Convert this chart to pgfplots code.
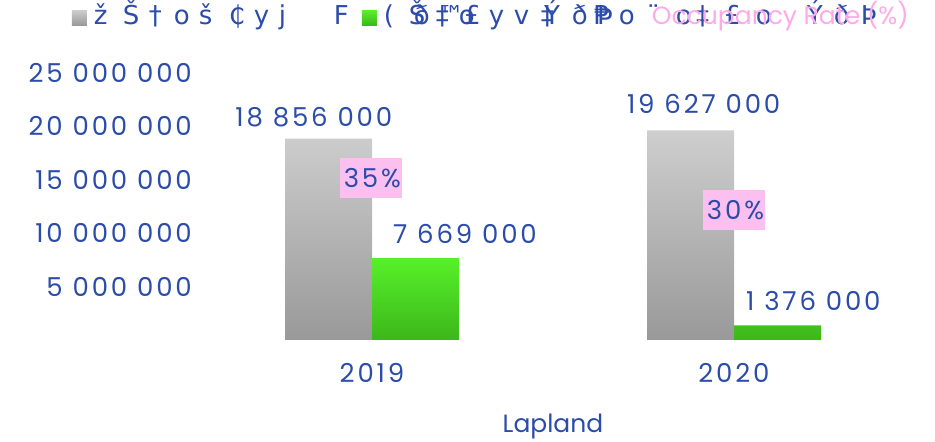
\documentclass[border=0pt]{standalone}
\usepackage{pgfplots}
\pgfplotsset{compat=1.18}
\usepackage{fontspec}
\setmainfont{Poppins}[LetterSpace=11]
\newfontfamily\pinkfont{Poppins}[LetterSpace=0]
\newfontfamily\glyphfont{DejaVu Sans}
\definecolor{txtblue}{RGB}{44,76,170}
\definecolor{boxpink}{RGB}{252,192,240}
\definecolor{legpink}{RGB}{255,170,230}
\definecolor{graytop}{RGB}{206,206,206}
\definecolor{graybot}{RGB}{153,153,153}
\definecolor{greentop}{RGB}{88,240,42}
\definecolor{greenbot}{RGB}{60,183,26}
\newcommand\gl[2]{\rlap{\hspace*{#1bp}#2}}
\begin{document}
\begin{tikzpicture}[font=\fontsize{26bp}{30bp}\selectfont]
\path[use as bounding box] (0,0) rectangle (935bp,442bp);
\begin{axis}[
  at={(191bp,102bp)}, anchor=south west,
  scale only axis, width=724bp, height=267bp,
  xmin=-0.5, xmax=1.5, ymin=0, ymax=25000000,
  clip=false,
  axis line style={draw=none}, tick style={draw=none}, major tick length=0,
  xtick={0,1}, xticklabels={2019,2020},
  ytick={5000000,10000000,15000000,20000000,25000000},
  yticklabels={5 000 000,10 000 000,15 000 000,20 000 000,25 000 000},
  scaled y ticks=false,
  yticklabel style={anchor=east, inner sep=0, xshift=1bp, text=txtblue},
  xticklabel style={anchor=north, inner sep=0, yshift=-23bp, text=txtblue},
  xlabel={\pinkfont\fontsize{25bp}{30bp}\selectfont Lapland},
  xlabel style={at={(axis description cs:0.5,-0.3446)}, anchor=base, inner sep=0, text=txtblue},
  legend columns=3,
  legend style={at={(axis description cs:-0.1644,1.2734)}, anchor=north west,
    draw=none, fill=none, inner sep=0, outer sep=0,
    nodes={inner sep=0, text=txtblue, anchor=base west},
    /tikz/every odd column/.append style={column sep=7bp},
    /tikz/every even column/.append style={column sep=0bp}},
  legend cell align=left,
]
\addplot[ybar, bar width=87bp, bar shift=-43.5bp, draw=none, top color=graytop, bottom color=graybot,
  legend image code/.code={\fill[top color=graytop, bottom color=graybot] (0bp,-1bp) rectangle (15bp,14bp);}]
  coordinates {(0,18856000) (1,19627000)};
\addplot[ybar, bar width=87bp, bar shift=43.5bp, draw=none, top color=greentop, bottom color=greenbot,
  legend image code/.code={\fill[top color=greentop, bottom color=greenbot] (0bp,-1bp) rectangle (15bp,14bp);}]
  coordinates {(0,7669000) (1,1376000)};
\addplot[draw=none, mark=none, legend image code/.code={},
  nodes near coords, point meta=explicit symbolic,
  nodes near coords style={fill=boxpink, inner xsep=1bp, inner ysep=0, text width=60bp, align=right,
    minimum height=40bp, anchor=center, text=txtblue}]
  coordinates {(-0.003,15140000)[35\%] (1.0,12140000)[30\%]};
\legend{%
  {\glyphfont\makebox[268bp][l]{\gl{0}{ž}\gl{29}{Š}\gl{55}{†}\gl{80}{o}\gl{105}{š}\gl{135}{₵}\gl{160}{y}\gl{185}{j}\gl{240}{F}}},
  {\glyphfont\makebox[261bp][l]{\gl{0}{(}\gl{25}{Š}\gl{30}{ð}\gl{52}{‡}\gl{54}{™}\gl{75}{o}\gl{80}{£}\gl{105}{y}\gl{130}{v}\gl{157}{‡}\gl{160}{Ý}\gl{188}{ð}\gl{210}{₱}\gl{213}{Þ}\gl{235}{o}\gl{263}{¨}\gl{292}{o}\gl{312}{‡}\gl{340}{£}\gl{372}{o}\gl{423}{Ý}\gl{450}{ð}\gl{477}{Þ}}},
  {\pinkfont\fontsize{25bp}{30bp}\selectfont\color{legpink}Occupancy Rate (\%)}}
\node[anchor=base west, inner sep=0, text=txtblue] at (axis cs:-0.378,20020000) {18 856 000};
\node[anchor=base west, inner sep=0, text=txtblue] at (axis cs:0.058,9040000) {7 669 000};
\node[anchor=base west, inner sep=0, text=txtblue] at (axis cs:0.704,21240000) {19 627 000};
\node[anchor=base west, inner sep=0, text=txtblue] at (axis cs:1.033,2750000) {1 376 000};
\end{axis}
\end{tikzpicture}
\end{document}
